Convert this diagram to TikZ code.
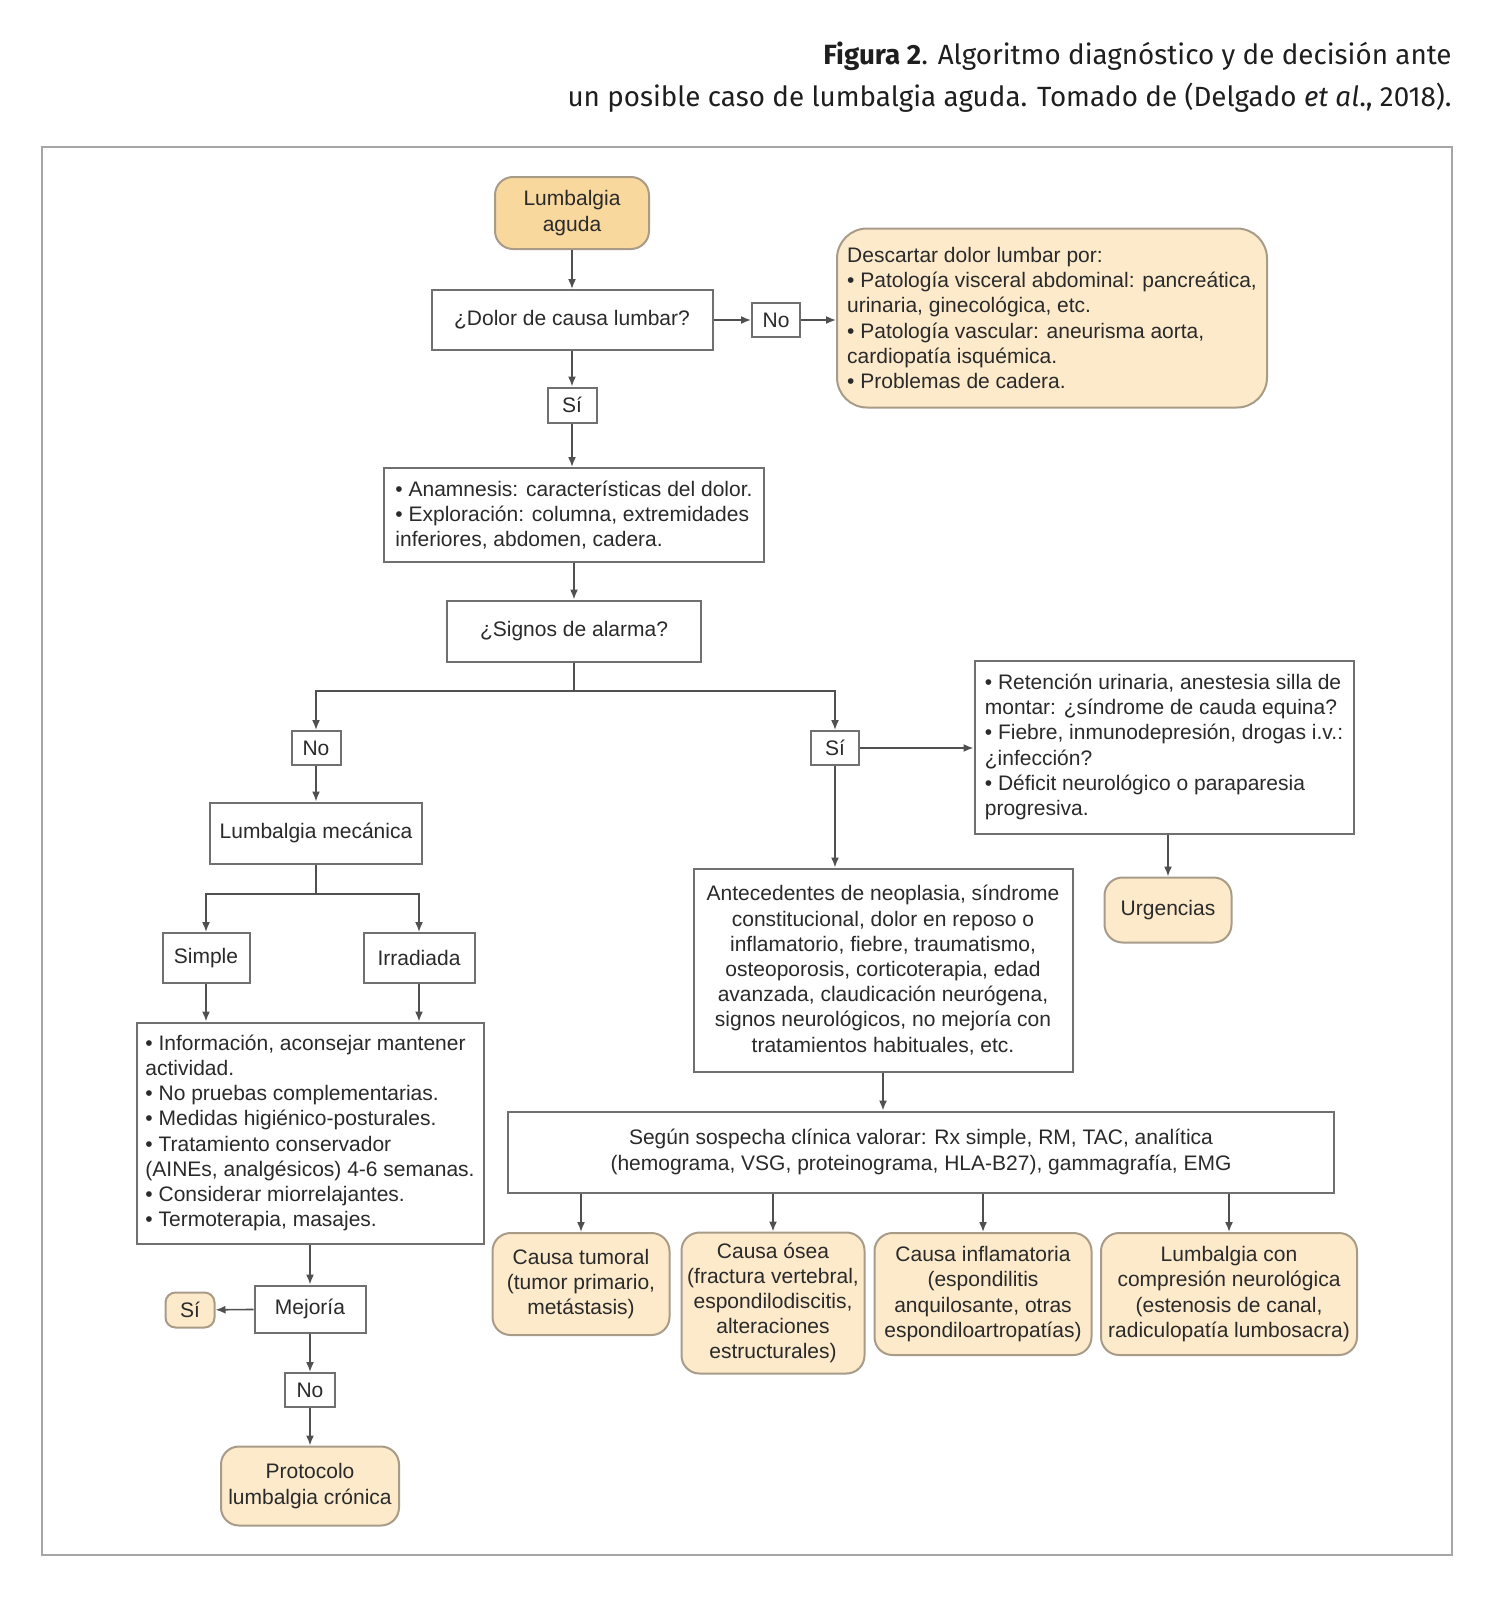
\documentclass[tikz,border=0pt]{standalone}
\usepackage{fontspec}
\setmainfont{Liberation Sans}
\newfontfamily\capfont{Fira Sans}
\usetikzlibrary{arrows.meta}
\definecolor{boxc}{HTML}{707070}
\definecolor{ybordc}{HTML}{A89B88}
\definecolor{yelc}{HTML}{FDEACB}
\definecolor{startc}{HTML}{F9D89E}
\definecolor{linec}{HTML}{505050}
\definecolor{framec}{HTML}{A6A6A6}
\definecolor{txtc}{HTML}{2A2A2A}
\definecolor{capc}{HTML}{1E1E1E}
\begin{document}
\begin{tikzpicture}[x=0.5pt,y=-0.5pt,
  sz/.style 2 args={minimum width=#1*0.5pt, minimum height=#2*0.5pt},
  box/.style={draw=boxc, line width=1pt, fill=white, text=txtc, inner sep=2pt, font=\fontsize{10.5}{12.6}\selectfont},
  ybox/.style={box, draw=ybordc, fill=yelc, rounded corners=9pt},
  arr/.style={draw=linec, line width=0.8pt, -{Latex[length=5pt,width=4pt]}},
  ln/.style={draw=linec, line width=0.8pt},
  capt/.style={font=\capfont\fontsize{13.9}{16}\selectfont, inner sep=0pt, text=capc}]
\useasboundingbox (0,0) rectangle (1506,1616);
\node[capt, anchor=base east] (cap1) at (1452,65) {\textbf{Figura 2}. Algoritmo diagnóstico y de decisión ante};
\node[capt, anchor=base east] (cap2) at (1452,106) {un posible caso de lumbalgia aguda. Tomado de (Delgado \textit{et al}., 2018).};
\draw[framec, line width=1pt] (42,147) rectangle (1452,1555);
\node[ybox, fill=startc, sz={154}{72}, align=center] (start) at (572,213) {Lumbalgia\\aguda};
\node[box, sz={281}{60}] (q1) at (572,320) {¿Dolor de causa lumbar?};
\node[box, sz={48}{34}] (l1) at (776,320) {No};
\node[ybox, rounded corners=15pt, sz={430}{179}, align=left] (d1) at (1052,318) {Descartar dolor lumbar por:\\• Patología visceral abdominal: pancreática,\\urinaria, ginecológica, etc.\\• Patología vascular: aneurisma aorta,\\cardiopatía isquémica.\\• Problemas de cadera.};
\node[box, sz={49}{35}] (l2) at (572,405) {Sí};
\node[box, sz={380}{94}, align=left] (a1) at (574,515) {• Anamnesis: características del dolor.\\• Exploración: columna, extremidades\\inferiores, abdomen, cadera.};
\node[box, sz={254}{61}] (q2) at (574,631) {¿Signos de alarma?};
\node[box, sz={49}{34}] (l3) at (316,748) {No};
\node[box, sz={48}{34}] (l4) at (835,748) {Sí};
\node[box, sz={379}{173}, align=left] (ret) at (1164,747) {• Retención urinaria, anestesia silla de\\montar: ¿síndrome de cauda equina?\\• Fiebre, inmunodepresión, drogas i.v.:\\¿infección?\\• Déficit neurológico o paraparesia\\progresiva.};
\node[ybox, sz={127}{65}] (urg) at (1168,910) {Urgencias};
\node[box, sz={379}{203}, align=center] (ant) at (883,970) {Antecedentes de neoplasia, síndrome\\constitucional, dolor en reposo o\\inflamatorio, fiebre, traumatismo,\\osteoporosis, corticoterapia, edad\\avanzada, claudicación neurógena,\\signos neurológicos, no mejoría con\\tratamientos habituales, etc.};
\node[box, sz={826}{81}, align=center] (seg) at (921,1152) {Según sospecha clínica valorar: Rx simple, RM, TAC, analítica\\(hemograma, VSG, proteinograma, HLA-B27), gammagrafía, EMG};
\node[ybox, sz={177}{102}, align=center] (c1) at (581,1284) {Causa tumoral\\(tumor primario,\\metástasis)};
\node[ybox, sz={183}{141}, align=center] (c2) at (773,1303) {Causa ósea\\(fractura vertebral,\\espondilodiscitis,\\alteraciones\\estructurales)};
\node[ybox, sz={217}{122}, align=center] (c3) at (983,1294) {Causa inflamatoria\\(espondilitis\\anquilosante, otras\\espondiloartropatías)};
\node[ybox, sz={256}{122}, align=center] (c4) at (1229,1294) {Lumbalgia con\\compresión neurológica\\(estenosis de canal,\\radiculopatía lumbosacra)};
\node[box, sz={212}{61}] (mec) at (316,833) {Lumbalgia mecánica};
\node[box, sz={87}{50}] (simple) at (206,958) {Simple};
\node[box, sz={111}{50}] (irr) at (419,958) {Irradiada};
\node[box, sz={347}{221}, align=left] (info) at (310,1133) {• Información, aconsejar mantener\\actividad.\\• No pruebas complementarias.\\• Medidas higiénico-posturales.\\• Tratamiento conservador\\(AINEs, analgésicos) 4-6 semanas.\\• Considerar miorrelajantes.\\• Termoterapia, masajes.};
\node[box, sz={111}{47}] (mej) at (310,1309) {Mejoría};
\node[ybox, rounded corners=5pt, sz={49}{35}] (si2) at (190,1310) {Sí};
\node[box, sz={50}{34}] (no3) at (310,1390) {No};
\node[ybox, sz={178}{79}, align=center] (prot) at (310,1486) {Protocolo\\lumbalgia crónica};
\coordinate (j1) at (574,691);
\coordinate (j2) at (316,894);
\draw[arr] (start) -- (q1);
\draw[arr] (q1) -- (l1);
\draw[arr] (l1) -- (l1 -| d1.west);
\draw[arr] (q1) -- (l2);
\draw[arr] (l2) -- (l2 |- a1.north);
\draw[arr] (a1) -- (q2);
\draw[ln] (q2) -- (j1);
\draw[arr] (j1) -| (l3);
\draw[arr] (j1) -| (l4);
\draw[arr] (l4) -- (l4 -| ret.west);
\draw[arr] (urg |- ret.south) -- (urg);
\draw[arr] (l4) -- (l4 |- ant.north);
\draw[arr] (ant) -- (ant |- seg.north);
\draw[arr] (c1 |- seg.south) -- (c1);
\draw[arr] (c2 |- seg.south) -- (c2);
\draw[arr] (c3 |- seg.south) -- (c3);
\draw[arr] (c4 |- seg.south) -- (c4);
\draw[arr] (l3) -- (mec);
\draw[ln] (mec) -- (j2);
\draw[arr] (j2) -| (simple);
\draw[arr] (j2) -| (irr);
\draw[arr] (simple) -- (simple |- info.north);
\draw[arr] (irr) -- (irr |- info.north);
\draw[arr] (info) -- (mej);
\draw[arr] (mej) -- (si2);
\draw[arr] (mej) -- (no3);
\draw[arr] (no3) -- (prot);
\end{tikzpicture}
\end{document}
